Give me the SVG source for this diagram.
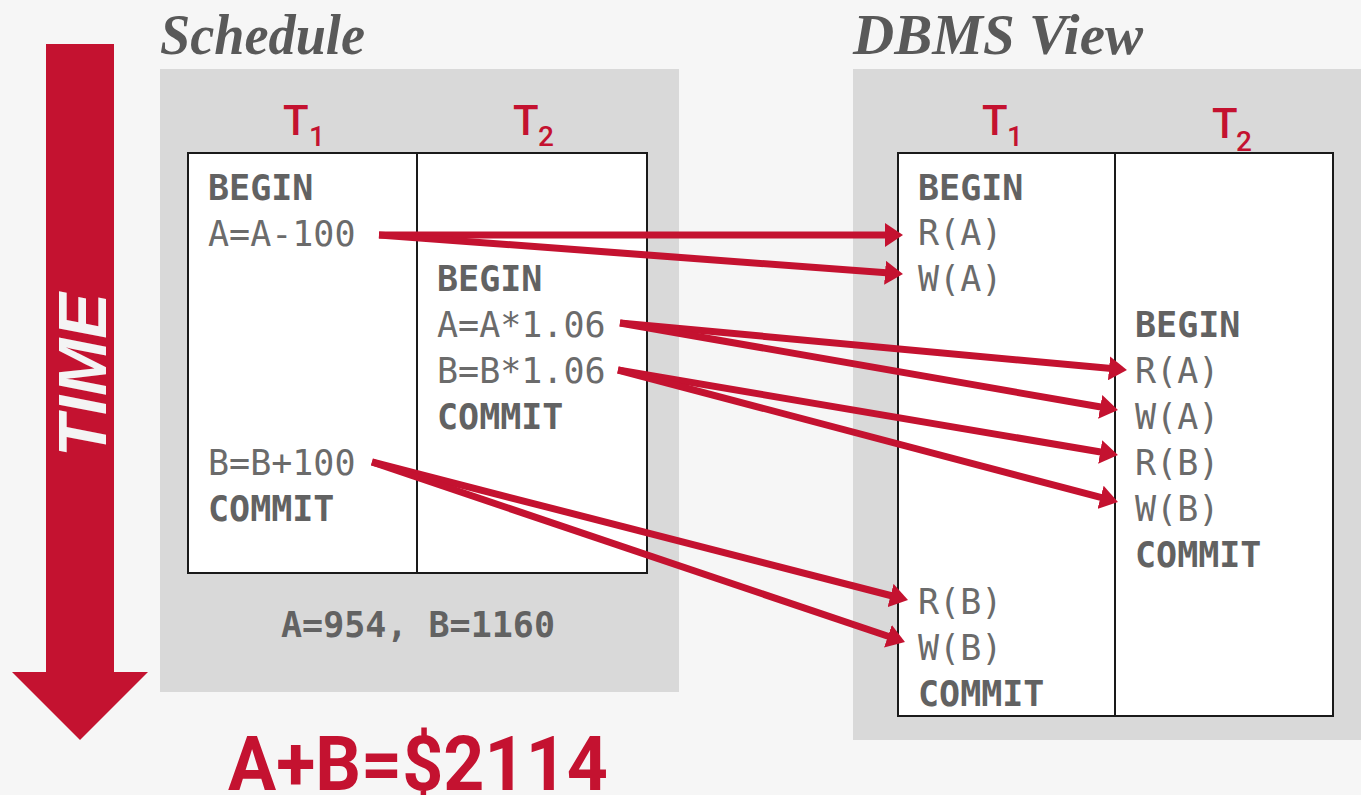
<svg xmlns="http://www.w3.org/2000/svg" width="1361" height="795" viewBox="0 0 1361 795">
  <style>
    .title { font-family: "Liberation Serif", serif; font-weight: bold; font-style: italic; font-size: 58px; fill: #595959; }
    .panel { fill: #d9d9d9; }
    .cell { fill: #ffffff; stroke: #1a1a1a; stroke-width: 2; }
    .tx { font-family: Roboto, "Liberation Sans", sans-serif; font-weight: 500; fill: #c41230; }
    .op { font-family: "DejaVu Sans Mono", monospace; font-size: 35px; fill: #6b6b6b; }
    .kw { font-family: "DejaVu Sans Mono", monospace; font-size: 35px; font-weight: bold; fill: #626262; }
    .link { fill: none; stroke: #c41230; stroke-width: 7; marker-end: url(#head); }
  </style>
  <defs>
    <marker id="head" viewBox="0 0 18 24" refX="8" refY="12" markerWidth="18" markerHeight="24" markerUnits="userSpaceOnUse" orient="auto">
      <path d="M0,0 L18,12 L0,24 Z" fill="#c41230"/>
    </marker>
  </defs>

  <rect width="1361" height="795" fill="#f6f6f6"/>

  <!-- time axis -->
  <g id="time-arrow">
    <path d="M46,44 H114 V672 H148 L80,740 L12,672 H46 Z" fill="#c41230"/>
    <text transform="translate(106,375) rotate(-90)" text-anchor="middle" font-family="Liberation Sans, sans-serif" font-weight="bold" font-style="italic" font-size="68" fill="#f4f4f4" textLength="164" lengthAdjust="spacingAndGlyphs">TIME</text>
  </g>

  <!-- left: interleaved schedule -->
  <g id="schedule">
    <text class="title" x="160" y="54" textLength="205" lengthAdjust="spacingAndGlyphs">Schedule</text>
    <rect class="panel" x="160" y="69" width="519" height="623"/>
    <text class="tx" x="283" y="135" font-size="42">T</text>
    <text class="tx" x="309" y="146" font-size="28">1</text>
    <text class="tx" x="513" y="135" font-size="42">T</text>
    <text class="tx" x="538" y="146" font-size="28">2</text>
    <rect class="cell" x="188" y="153" width="229" height="420"/>
    <rect class="cell" x="417" y="153" width="230" height="420"/>
    <g id="sched-t1">
      <text class="kw" x="208" y="200">BEGIN</text>
      <text class="op" x="208" y="246">A=A-100</text>
      <text class="op" x="208" y="475">B=B+100</text>
      <text class="kw" x="208" y="521">COMMIT</text>
    </g>
    <g id="sched-t2">
      <text class="kw" x="437" y="291">BEGIN</text>
      <text class="op" x="437" y="337">A=A*1.06</text>
      <text class="op" x="437" y="383">B=B*1.06</text>
      <text class="kw" x="437" y="429">COMMIT</text>
    </g>
    <text class="kw" x="418" y="637" text-anchor="middle">A=954, B=1160</text>
  </g>

  <!-- right: operations as seen by the DBMS -->
  <g id="dbms-view">
    <text class="title" x="853" y="54" textLength="290" lengthAdjust="spacingAndGlyphs">DBMS View</text>
    <rect class="panel" x="853" y="69" width="508" height="671"/>
    <text class="tx" x="982" y="135" font-size="42">T</text>
    <text class="tx" x="1007" y="146" font-size="28">1</text>
    <text class="tx" x="1212" y="138" font-size="42">T</text>
    <text class="tx" x="1236" y="151" font-size="28">2</text>
    <rect class="cell" x="898" y="153" width="217" height="563"/>
    <rect class="cell" x="1115" y="153" width="218" height="563"/>
    <g id="dbms-t1">
      <text class="kw" x="918" y="200">BEGIN</text>
      <text class="op" x="918" y="245">R(A)</text>
      <text class="op" x="918" y="291">W(A)</text>
      <text class="op" x="918" y="614">R(B)</text>
      <text class="op" x="918" y="660">W(B)</text>
      <text class="kw" x="918" y="706">COMMIT</text>
    </g>
    <g id="dbms-t2">
      <text class="kw" x="1135" y="337">BEGIN</text>
      <text class="op" x="1135" y="383">R(A)</text>
      <text class="op" x="1135" y="429">W(A)</text>
      <text class="op" x="1135" y="475">R(B)</text>
      <text class="op" x="1135" y="521">W(B)</text>
      <text class="kw" x="1135" y="567">COMMIT</text>
    </g>
  </g>

  <!-- mapping from schedule steps to reads/writes -->
  <g id="connectors">
    <line class="link" x1="379" y1="235" x2="893" y2="235"/>
    <line class="link" x1="379" y1="235" x2="893" y2="273.3"/>
    <line class="link" x1="620" y1="323" x2="1117" y2="369.1"/>
    <line class="link" x1="620" y1="323" x2="1108.1" y2="408.3"/>
    <line class="link" x1="618" y1="370" x2="1108.1" y2="453.3"/>
    <line class="link" x1="618" y1="370" x2="1108.3" y2="499.4"/>
    <line class="link" x1="372" y1="462" x2="898.3" y2="597.5"/>
    <line class="link" x1="372" y1="462" x2="895.5" y2="638.8"/>
  </g>

  <g id="total">
    <text x="228" y="790" font-family="Roboto, 'Liberation Sans', sans-serif" font-weight="bold" font-size="76" fill="#c41230" textLength="380" lengthAdjust="spacingAndGlyphs">A+B=$2114</text>
  </g>
</svg>
